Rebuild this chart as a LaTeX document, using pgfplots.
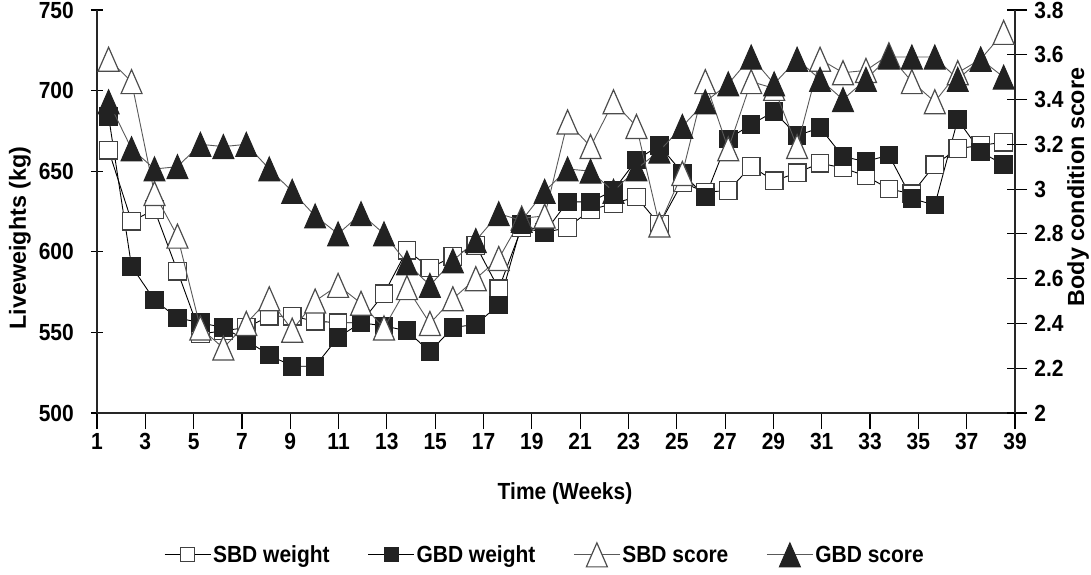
\documentclass[border=0pt]{standalone}
\usepackage{fontspec}
\setmainfont{Liberation Sans}[FakeStretch=0.9]
\newfontfamily\widefont{Liberation Sans}
\usepackage{pgfplots}
\pgfplotsset{compat=1.18}
\usepackage{pgfplotstable}

\definecolor{dk}{HTML}{222222}
\newcommand\lbl{\fontsize{23.4}{26}\selectfont\bfseries}
\newcommand\vlbl{\widefont\fontsize{23.4}{26}\selectfont\bfseries}

\pgfdeclareplotmark{tri}{%
  \pgfpathmoveto{\pgfqpoint{0pt}{1.2\pgfplotmarksize}}%
  \pgfpathlineto{\pgfqpoint{-1.05\pgfplotmarksize}{-1.2\pgfplotmarksize}}%
  \pgfpathlineto{\pgfqpoint{1.05\pgfplotmarksize}{-1.2\pgfplotmarksize}}%
  \pgfpathclose
  \pgfusepathqfillstroke}

\pgfplotstableread{
x     sbdw gbdw sbds gbds
1.48  663  684  3.58 3.39
2.43  619  591  3.48 3.18
3.38  626  570  2.98 3.09
4.33  588  559  2.79 3.10
5.28  549  556  2.38 3.20
6.23  551  553  2.29 3.19
7.18  553  545  2.40 3.20
8.13  560  536  2.51 3.09
9.08  560  529  2.37 2.99
10.03 557  529  2.50 2.88
10.98 556  547  2.57 2.80
11.93 556  556  2.49 2.89
12.88 574  554  2.38 2.80
13.83 601  551  2.56 2.67
14.78 590  538  2.40 2.57
15.73 597  553  2.51 2.68
16.68 604  555  2.60 2.77
17.63 577  567  2.69 2.89
18.58 615  617  2.87 2.86
19.53 612  612  2.88 2.99
20.48 615  631  3.30 3.09
21.43 626  631  3.19 3.08
22.38 630  638  3.39 2.99
23.33 634  657  3.28 3.09
24.28 617  666  2.84 3.17
25.23 643  649  3.07 3.28
26.18 637  634  3.48 3.39
27.13 638  670  3.18 3.47
28.08 653  679  3.48 3.59
29.03 644  687  3.45 3.47
29.98 649  672  3.19 3.58
30.93 655  677  3.58 3.49
31.88 652  659  3.52 3.40
32.83 647  656  3.53 3.49
33.78 639  660  3.60 3.59
34.73 636  633  3.48 3.59
35.68 654  629  3.39 3.59
36.63 664  682  3.52 3.49
37.58 666  662  3.58 3.58
38.53 668  654  3.70 3.50
}\data

\pgfplotsset{
  sbdw/.style={color=black, line width=0.9bp, mark=square*, mark size=8.8bp,
    mark options={fill=white, draw=black!75, line width=1.2bp}},
  gbdw/.style={color=black, line width=0.9bp, mark=square*, mark size=8.8bp,
    mark options={fill=dk, draw=dk, line width=1bp}},
  sbds/.style={color=black!65, line width=0.9bp, mark=tri, mark size=10bp,
    mark options={fill=white, draw=black!70, line width=1.2bp}},
  gbds/.style={color=black!65, line width=0.9bp, mark=tri, mark size=10bp,
    mark options={fill=dk, draw=dk, line width=1bp}},
  common/.style={
    scale only axis, width=918bp, height=403bp,
    xmin=1, xmax=39, clip=false,
    axis line style={line width=1.3bp, black!85},
    tick style={line width=1.2bp, black},
    /pgf/number format/assume math mode=true,
    legend image code/.code={%
      \draw[mark repeat=2,mark phase=2,##1] plot coordinates {(0bp,0bp) (23bp,0bp) (46bp,0bp)};},
  },
}

\begin{document}
\begin{tikzpicture}
\useasboundingbox (-97bp,-162bp) rectangle (994bp,413bp);
\begin{axis}[common,
  ymin=500, ymax=750,
  xtick={1,3,...,39}, ytick={500,550,...,750},
  axis x line*=bottom, axis y line*=left,
  tick align=outside,
  major tick length=16bp,
  ytick style={/pgfplots/major tick length=12bp, xshift=6bp},
  xticklabel style={font=\lbl, inner sep=0pt, anchor=north, yshift=-4bp},
  yticklabel style={font=\lbl, inner sep=0pt, anchor=east, xshift=-7bp},
]
\addplot[sbdw] table[x=x, y=sbdw] {\data};
\addplot[gbdw] table[x=x, y=gbdw] {\data};
\node[font=\lbl, anchor=center] at (axis description cs:0.5098,-0.1985) {Time (Weeks)};
\node[font=\vlbl, anchor=center, rotate=90] at (axis description cs:-0.0839,0.434) {Liveweights (kg)};
\end{axis}
\begin{axis}[common,
  ymin=2, ymax=3.8,
  ytick={2,2.2,2.4,2.6,2.8,3,3.2,3.4,3.6,3.8},
  axis x line=none, axis y line*=right,
  tick align=outside,
  ytick style={/pgfplots/major tick length=20bp, xshift=-8bp},
  yticklabel style={font=\lbl, inner sep=0pt, anchor=west, xshift=15bp},
  legend style={at={(axis description cs:0.488,-0.352)}, anchor=center,
    draw=none, fill=none, font=\lbl, legend columns=4,
    /tikz/every even column/.append style={column sep=36bp}},
]
\addlegendimage{sbdw, mark size=7bp}
\addlegendentry{SBD weight}
\addlegendimage{gbdw, mark size=7bp}
\addlegendentry{GBD weight}
\addplot[sbds] table[x=x, y=sbds] {\data};
\addlegendentry{SBD score}
\addplot[gbds] table[x=x, y=gbds] {\data};
\addlegendentry{GBD score}
\node[font=\vlbl, anchor=center, rotate=90] at (axis description cs:1.0686,0.561) {Body condition score};
\end{axis}
\end{tikzpicture}
\end{document}
